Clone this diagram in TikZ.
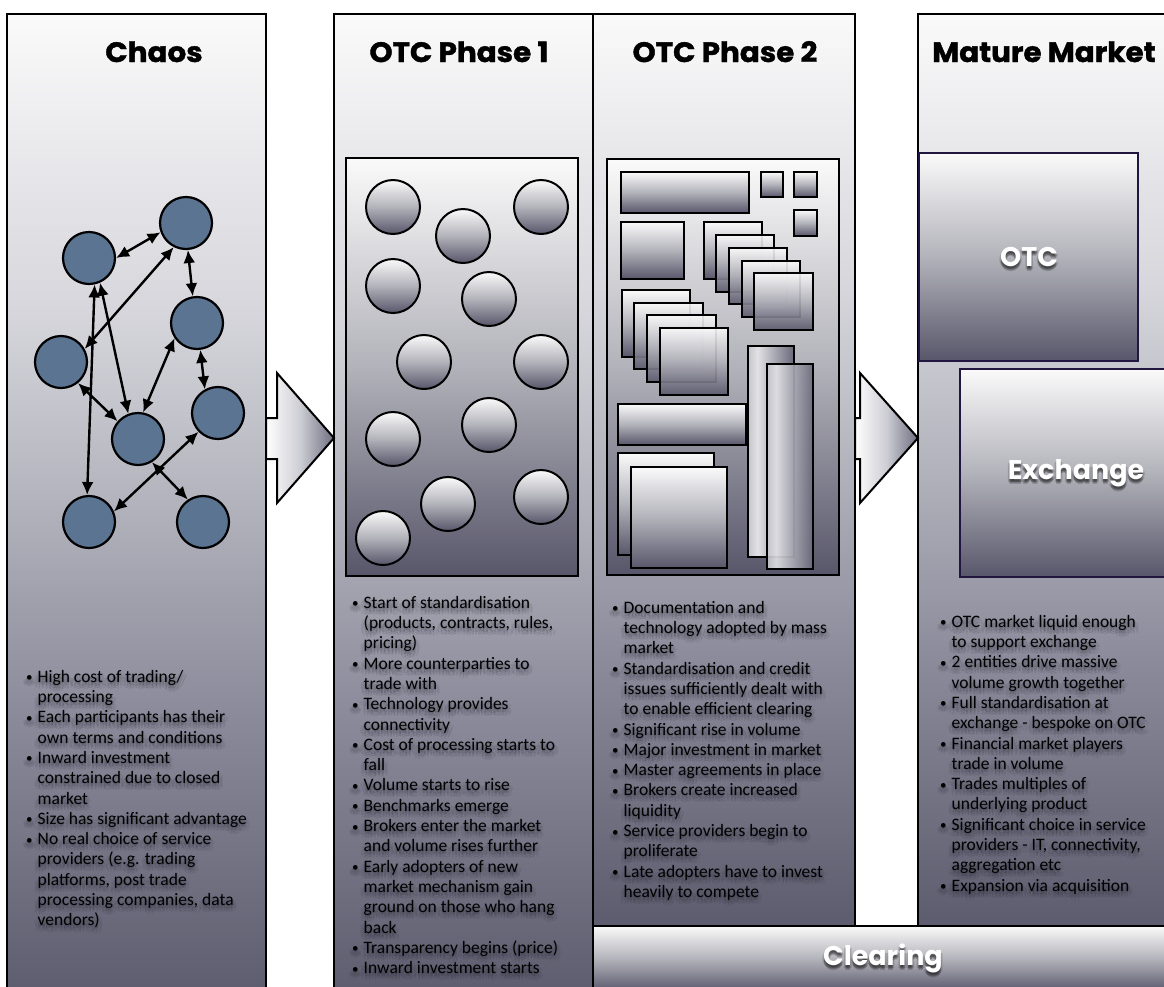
\documentclass[tikz,border=0pt]{standalone}
\usepackage{fontspec}
\setmainfont{Carlito}
\newfontfamily\headfont{Poppins}[BoldFeatures={FakeBold=1.4, FakeStretch=1.05}]
\newfontfamily\labelfont{Poppins}
\usetikzlibrary{arrows.meta}

% palette
\definecolor{netblue}{RGB}{90,116,146}
\definecolor{boxnavy}{RGB}{32,22,64}
\definecolor{hazecol}{RGB}{30,30,42}
\definecolor{cBot}{RGB}{92,92,110}
\definecolor{cLow}{RGB}{140,140,156}
\definecolor{cMid}{RGB}{178,178,188}
\definecolor{cUp}{RGB}{214,214,220}
\definecolor{cTop}{RGB}{250,250,250}
\definecolor{iBot}{RGB}{88,86,106}
\definecolor{iMid}{RGB}{178,178,186}
\definecolor{iTop}{RGB}{250,250,250}
\definecolor{tLeft}{RGB}{196,196,202}
\definecolor{tLight}{RGB}{226,226,230}
\definecolor{tRight}{RGB}{104,104,122}
\definecolor{pMid}{RGB}{205,205,212}
\definecolor{pRight}{RGB}{110,110,128}

% gradients (the path is mapped onto the 25bp..75bp band)
\pgfdeclareverticalshading{columnshade}{100bp}{color(0bp)=(cBot); color(25bp)=(cBot); color(40bp)=(cLow); color(50bp)=(cMid); color(60bp)=(cUp); color(75bp)=(cTop); color(100bp)=(cTop)}
\pgfdeclareverticalshading{itemshade}{100bp}{color(0bp)=(iBot); color(25bp)=(iBot); color(50bp)=(iMid); color(75bp)=(iTop); color(100bp)=(iTop)}
\pgfdeclarehorizontalshading{tallshade}{100bp}{color(0bp)=(tLeft); color(25bp)=(tLeft); color(35bp)=(tLight); color(75bp)=(tRight); color(100bp)=(tRight)}
\pgfdeclarehorizontalshading{pointershade}{100bp}{color(0bp)=(white); color(25bp)=(white); color(50bp)=(pMid); color(75bp)=(pRight); color(100bp)=(pRight)}

\tikzset{
  colbox/.style={shade, shading=columnshade, draw=black, line width=2.4pt},
  panel/.style={shade, shading=itemshade, draw=black, line width=2.4pt},
  tile/.style={shade, shading=itemshade, draw=black, line width=2pt},
  tiletall/.style={shade, shading=tallshade, draw=black, line width=2pt},
  disc/.style={shade, shading=itemshade, draw=black, line width=2pt},
  pointer/.style={shade, shading=pointershade, draw=black, line width=2pt, line join=miter},
  netnode/.style={circle, draw=black, line width=2.2pt, fill=netblue, minimum size=52pt, inner sep=0pt},
  link/.style={line width=2.4pt, {Latex[length=13pt,width=12pt]}-{Latex[length=13pt,width=12pt]}},
  headline/.style={font=\headfont\bfseries\fontsize{28}{30}\selectfont, inner sep=0pt, anchor=base},
  bodytext/.style={font=\fontsize{17.5}{20.3}\selectfont, align=left, inner sep=0pt, anchor=north west},
  mkbox/.style={shade, shading=itemshade, draw=boxnavy, line width=2pt},
  whitelabel/.style={font=\labelfont\bfseries\fontsize{27}{29}\selectfont, text=white, inner sep=0pt},
}

\newcommand\firststrut{\rule{0pt}{14pt}}
\newcommand\bitem{\makebox[11.5pt][l]{\raisebox{0.5pt}{\scalebox{0.75}{\textbullet}}}}
\newcommand\cont{\hspace*{11.5pt}}

% body text over a soft dark haze
\newcommand\hazybody[3]{%
  \foreach \dx/\dy [count=\k] in {0/2,-2/3,2/3,0/5,-4/4,4/4,-3/6,3/6,0/7,-1/1,1/1}{%
    \node[bodytext, text=hazecol, text opacity=0.075, shift={(\dx,\dy)}] (#1-haze-\k) at (#2) {#3};}%
  \node[bodytext] (#1) at (#2) {#3};}

% white label with a drop shadow
\newcommand\shadowlabel[3]{%
  \foreach \dx/\dy [count=\k] in {0/2,-1.5/3,1.5/3,0/4,0/5}{%
    \node[whitelabel, text=black, text opacity=0.16, shift={(\dx,\dy)}] (#1-sh-\k) at (#2) {#3};}%
  \node[whitelabel] (#1) at (#2) {#3};}

\begin{document}
\begin{tikzpicture}[x=1pt,y=-1pt]
\useasboundingbox (0,0) rectangle (1164,986);
\fill[white] (0,0) rectangle (1164,986);
\begin{scope}
\clip (0,0) rectangle (1164,986);

% stage columns
\path[colbox] (7,14) rectangle (266,1000);
\path[colbox] (334,14) rectangle (593,1000);
\path[colbox] (593,14) rectangle (855,926);
\path[colbox] (918,14) rectangle (1190,926);
\path[panel] (593,926) rectangle (1190,992);

% transition arrows
\path[pointer] (266,418) -- (277,418) -- (277,373) -- (334,438) -- (277,503) -- (277,459) -- (266,459) -- cycle;
\path[pointer] (855,418) -- (860,418) -- (860,373) -- (918,438) -- (860,503) -- (860,459) -- (855,459) -- cycle;

% headings
\node[headline] (t-chaos) at (154,62) {Chaos};
\node[headline] (t-otc1) at (459,62) {OTC Phase 1};
\node[headline] (t-otc2) at (725,62) {OTC Phase 2};
\node[headline, anchor=base west] (t-mature) at (932,62) {Mature Market};

% chaos: tangled bilateral links
\node[netnode] (A) at (89,258) {};
\node[netnode] (B) at (186,223) {};
\node[netnode] (C) at (197,323) {};
\node[netnode] (D) at (61,362) {};
\node[netnode] (E) at (218,413) {};
\node[netnode] (F) at (138,439) {};
\node[netnode] (G) at (89,522) {};
\node[netnode] (H) at (203,522) {};
\draw[link] (A.0) -- (B.200);
\draw[link] (B.-86) -- (C.99);
\draw[link] (B.243) -- (D.29);
\draw[link] (A.-78) -- (G.94);
\draw[link] (A.-66) -- (F.111);
\draw[link] (D.-51) -- (F.139);
\draw[link] (C.214) -- (F.79);
\draw[link] (C.-83) -- (E.119);
\draw[link] (E.224) -- (G.23);
\draw[link] (F.-59) -- (H.124);

% phase 1: loose counterparties
\path[panel] (346,158) rectangle (578,576);
\foreach \px/\py in {393/207, 463/236, 541/207, 393/286, 489/299, 424/362, 541/362, 393/439, 489/425, 448/504, 541/497, 383/538}{
  \path[disc] (\px,\py) circle[radius=27pt];
}

% phase 2: standardised building blocks
\path[panel] (607,159) rectangle (839,575);
\path[tile] (621,172) rectangle (749,213);
\path[tile] (761,172) rectangle (783,197);
\path[tile] (794,172) rectangle (817,197);
\path[tile] (794,210) rectangle (817,236);
\path[tile] (621,222) rectangle (684,279);
\path[tile] (704,222) rectangle (762,279);
\path[tile, fill opacity=0.9] (716,235) rectangle (774,292);
\path[tile, fill opacity=0.9] (729,248) rectangle (787,304);
\path[tile, fill opacity=0.9] (742,261) rectangle (800,317);
\path[tile, fill opacity=0.9] (754,273) rectangle (813,330);
\path[tile] (622,290) rectangle (690,357);
\path[tile, fill opacity=0.9] (634,303) rectangle (703,369);
\path[tile, fill opacity=0.9] (647,315) rectangle (716,382);
\path[tile, fill opacity=0.9] (660,328) rectangle (728,395);
\path[tile] (618,404) rectangle (746,445);
\path[tile] (618,453) rectangle (714,555);
\path[tile] (631,467) rectangle (727,568);
\path[tiletall] (748,346) rectangle (794,557);
\path[tiletall, fill opacity=0.9] (767,364) rectangle (813,569);

% mature market venues
\path[mkbox] (919,153) rectangle (1138,361);
\path[mkbox] (960,369) rectangle (1192,577);
\shadowlabel{l-otc}{1029,257}{OTC}
\shadowlabel{l-exch}{1076,473}{Exchange}
\shadowlabel{l-clear}{883,958}{Clearing}

% stage descriptions
\hazybody{txt-chaos}{26,668}{\firststrut\bitem High cost of trading/\\
\cont processing\\
\bitem Each participants has their\\
\cont own terms and conditions\\
\bitem Inward investment\\
\cont constrained due to closed\\
\cont market\\
\bitem Size has significant advantage\\
\bitem No real choice of service\\
\cont providers (e.g. trading\\
\cont platforms, post trade\\
\cont processing companies, data\\
\cont vendors)}

\hazybody{txt-otc1}{352,594}{\firststrut\bitem Start of standardisation\\
\cont (products, contracts, rules,\\
\cont pricing)\\
\bitem More counterparties to\\
\cont trade with\\
\bitem Technology provides\\
\cont connectivity\\
\bitem Cost of processing starts to\\
\cont fall\\
\bitem Volume starts to rise\\
\bitem Benchmarks emerge\\
\bitem Brokers enter the market\\
\cont and volume rises further\\
\bitem Early adopters of new\\
\cont market mechanism gain\\
\cont ground on those who hang\\
\cont back\\
\bitem Transparency begins (price)\\
\bitem Inward investment starts}

\hazybody{txt-otc2}{612,599}{\firststrut\bitem Documentation and\\
\cont technology adopted by mass\\
\cont market\\
\bitem Standardisation and credit\\
\cont issues sufficiently dealt with\\
\cont to enable efficient clearing\\
\bitem Significant rise in volume\\
\bitem Major investment in market\\
\bitem Master agreements in place\\
\bitem Brokers create increased\\
\cont liquidity\\
\bitem Service providers begin to\\
\cont proliferate\\
\bitem Late adopters have to invest\\
\cont heavily to compete}

\hazybody{txt-mature}{940,613}{\firststrut\bitem OTC market liquid enough\\
\cont to support exchange\\
\bitem 2 entities drive massive\\
\cont volume growth together\\
\bitem Full standardisation at\\
\cont exchange - bespoke on OTC\\
\bitem Financial market players\\
\cont trade in volume\\
\bitem Trades multiples of\\
\cont underlying product\\
\bitem Significant choice in service\\
\cont providers - IT, connectivity,\\
\cont aggregation etc\\
\bitem Expansion via acquisition}

\end{scope}
\end{tikzpicture}
\end{document}
